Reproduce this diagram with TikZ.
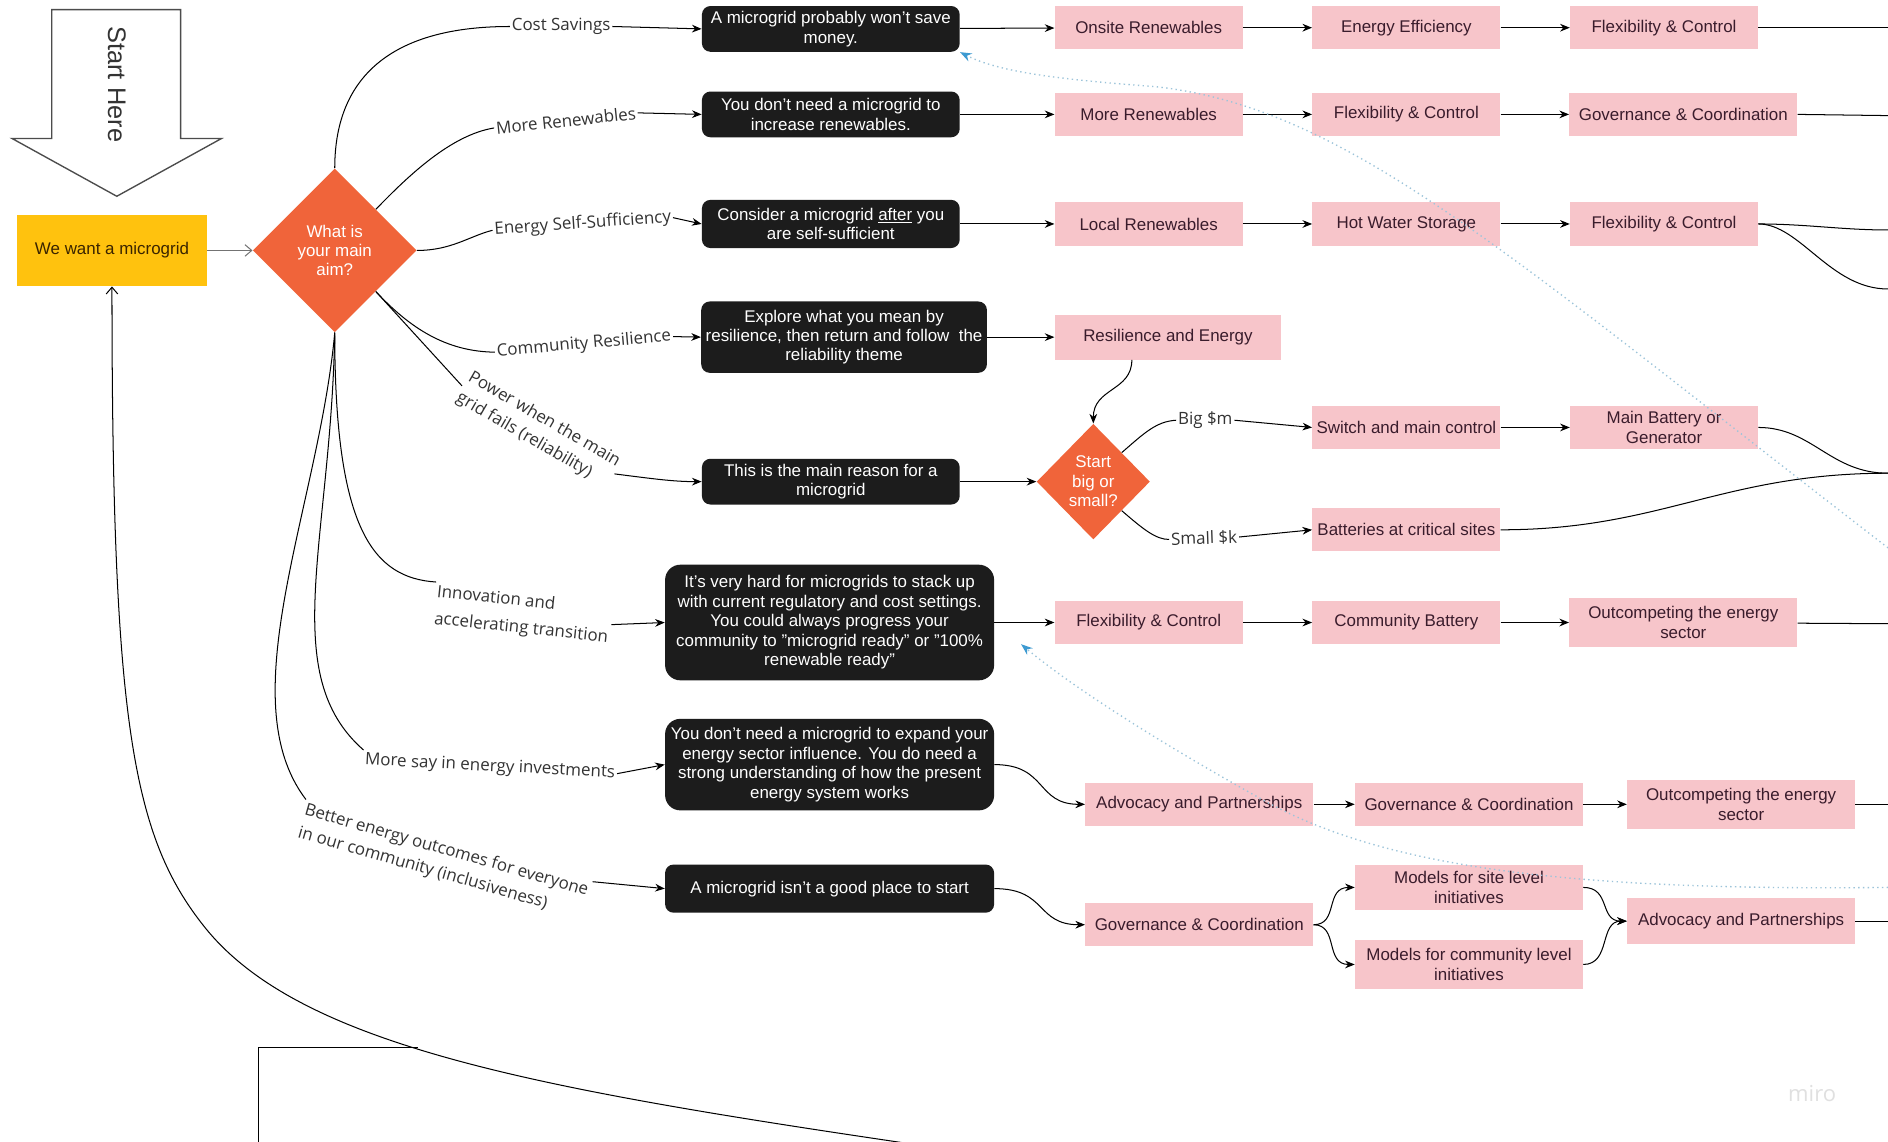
\documentclass[tikz,border=0pt]{standalone}
\usepackage{fontspec}
\setmainfont{Liberation Sans}
\newfontfamily\tagfont{Open Sans}
\usetikzlibrary{arrows.meta,positioning,calc,shapes.geometric}
\definecolor{notebg}{HTML}{1C1C1C}
\definecolor{topicbg}{HTML}{F7C5CA}
\definecolor{topictext}{HTML}{3A1C2C}
\definecolor{aimorange}{HTML}{F0643A}
\definecolor{startgold}{HTML}{FFC20E}
\definecolor{starttext}{HTML}{3A2400}
\definecolor{tagtext}{HTML}{333333}
\definecolor{hintline}{HTML}{9CC4DA}
\definecolor{hinthead}{HTML}{3D9AD1}

\begin{document}
\begin{tikzpicture}[
    x=0.025cm, y=-0.025cm,
    every node/.style={font=\fontsize{10}{11.5}\selectfont},
    note/.style={fill=notebg,text=white,rounded corners=5pt,align=center,minimum width=5.35cm,minimum height=0.95cm,inner sep=2pt},
    topic/.style={fill=topicbg,text=topictext,align=center,minimum width=3.9cm,minimum height=0.9cm,inner sep=2pt},
    wide/.style={minimum width=4.73cm},
    choice/.style={diamond,fill=aimorange,text=white,align=center,inner sep=0pt},
    tag/.style={font=\tagfont\fontsize{10}{14}\selectfont,text=tagtext,inner sep=1pt,align=left},
    wire/.style={line width=0.6pt,black},
    link/.style={wire,-{Stealth[length=2mm,width=1.6mm]}},
    soft/.style={line width=0.6pt,-{Straight Barb[length=1.4mm,width=2.4mm]}},
    hint/.style={line width=0.8pt,hintline,dotted,-{Stealth[length=2.4mm,width=1.8mm,color=hinthead]}}
]
\path[use as bounding box,fill=white] (0,0) rectangle (1568,948);

% Entry
\draw[line width=0.8pt,black!70] (43,8) -- (150,8) -- (150,115) -- (184,115) -- (97,163) -- (10,115) -- (43,115) -- cycle;
\node[rotate=-90,font=\fontsize{15}{15}\selectfont,text=black!80] (here) at (97,70) {Start Here};
\node[fill=startgold,text=starttext,minimum width=3.95cm,minimum height=1.48cm] (want) at (93,208) {We want a microgrid};
\node[choice,minimum width=3.4cm,minimum height=3.4cm] (aim) at (278,208) {What is\\your main\\aim?};
\draw[soft,black!55] (want) -- (aim);

% Aims
\node[tag] (cost) at (466,22) {Cost Savings};
\node[tag,rotate=6] (morer) at (470,100) {More Renewables};
\node[tag,rotate=4] (selfs) at (484,186) {Energy Self-Sufficiency};
\node[tag,rotate=5] (resil) at (485,286) {Community Resilience};
\node[tag,rotate=-30] (power) at (447,357) {Power when the main\\grid fails (reliability)};
\node[tag,rotate=-6] (innov) at (434,511) {Innovation and\\[2pt]accelerating transition};
\node[tag,rotate=-3] (moresay) at (407,637) {More say in energy investments};
\node[tag,rotate=-16] (better) at (368,716) {Better energy outcomes for everyone\\in our community (inclusiveness)};

% Answers
\node[note] (nomoney) at (690,24) {A microgrid probably won't save\\money.};
\node[note] (norenew) at (690,95) {You don't need a microgrid to\\increase renewables.};
\node[note,minimum height=1cm] (after) at (690,186) {Consider a microgrid \underline{after} you\\are self-sufficient};
\node[note,minimum width=5.93cm,minimum height=1.48cm] (explore) at (701,280) {Explore what you mean by\\resilience, then return and follow\ \ the\\reliability theme};
\node[note] (mainr) at (690,400) {This is the main reason for a\\microgrid};
\node[note,minimum width=6.83cm,minimum height=2.4cm,rounded corners=9pt] (hard) at (689,517) {It's very hard for microgrids to stack up\\with current regulatory and cost settings.\\You could always progress your\\community to "microgrid ready" or "100\%\\renewable ready"};
\node[note,minimum width=6.83cm,minimum height=1.9cm,rounded corners=9pt] (influence) at (689,635) {You don't need a microgrid to expand your\\energy sector influence. You do need a\\strong understanding of how the present\\energy system works};
\node[note,minimum width=6.83cm,minimum height=1cm] (notstart) at (689,738) {A microgrid isn't a good place to start};

% Themes
\node[topic] (t11) at (954,23) {Onsite Renewables};
\node[topic] (t12) at (1168,23) {Energy Efficiency};
\node[topic] (t13) at (1382,23) {Flexibility \& Control};
\node[topic] (t21) at (954,95) {More Renewables};
\node[topic] (t22) at (1168,95) {Flexibility \& Control};
\node[topic,wide] (t23) at (1398,95) {Governance \& Coordination};
\node[topic] (t31) at (954,186) {Local Renewables};
\node[topic] (t32) at (1168,186) {Hot Water Storage};
\node[topic] (t33) at (1382,186) {Flexibility \& Control};
\node[topic,minimum width=4.7cm,minimum height=0.93cm] (t41) at (970,280) {Resilience and Energy};
\node[choice,minimum width=2.35cm,minimum height=2.4cm] (size) at (908,400) {Start\\big or\\small?};
\node[tag] (big) at (1001,349) {Big \$m};
\node[tag,rotate=2] (small) at (1000,447) {Small \$k};
\node[topic] (t51) at (1168,355) {Switch and main control};
\node[topic] (t52) at (1382,355) {Main Battery or\\Generator};
\node[topic] (t61) at (1168,440) {Batteries at critical sites};
\node[topic] (t71) at (954,517) {Flexibility \& Control};
\node[topic] (t72) at (1168,517) {Community Battery};
\node[topic,wide,minimum height=1cm] (t73) at (1398,517) {Outcompeting the energy\\sector};
\node[topic,wide] (t81) at (996,668) {Advocacy and Partnerships};
\node[topic,wide] (t82) at (1220,668) {Governance \& Coordination};
\node[topic,wide,minimum height=1.03cm] (t83) at (1446,668) {Outcompeting the energy\\sector};
\node[topic,wide] (t91) at (996,768) {Governance \& Coordination};
\node[topic,wide,minimum height=0.95cm] (t92) at (1220,737) {Models for site level\\initiatives};
\node[topic,wide,minimum height=1cm] (t93) at (1220,801) {Models for community level\\initiatives};
\node[topic,wide,minimum height=0.97cm] (t94) at (1446,765) {Advocacy and Partnerships};
\node[font=\tagfont\fontsize{13}{13}\selectfont,text=black!12] (miro) at (1505,908) {miro};

% Edge ends
\coordinate (r1) at (1568,23);
\coordinate (r2) at (1568,96);
\coordinate (r3) at (1568,191);
\coordinate (r4) at (1568,240);
\coordinate (r5) at (1568,393);
\coordinate (r7) at (1568,518);
\coordinate (r8) at (1568,668);
\coordinate (r9) at (1568,765);
\coordinate (loop) at (770,952);
\coordinate (hintA) at (1568,455);
\coordinate (hintB) at (1568,737);
\coordinate (hintBend) at (848,535);

% From the main question
\draw[wire] (aim.north) .. controls (278,60) and (330,22) .. (cost.west);
\draw[wire] (aim.north east) .. controls (340,145) and (375,112) .. (morer.west);
\draw[wire] (aim.east) .. controls (375,208) and (390,196) .. (selfs.west);
\draw[wire] (aim.south east) .. controls (340,272) and (370,292) .. (resil.west);
\draw[wire] (aim.south east) -- (power.west);
\draw[wire] (aim.south) .. controls (278,440) and (310,480) .. (innov.north west);
\draw[wire] (aim.south) .. controls (275,450) and (230,560) .. (moresay.north west);
\draw[wire] (aim.south) .. controls (265,420) and (190,580) .. (better.north west);

\draw[link] (cost.east) -- (nomoney.west);
\draw[link] (morer.east) -- (norenew.west);
\draw[link] (selfs.east) -- (after.west);
\draw[link] (resil.east) -- (explore.west);
\draw[link] (power.east) .. controls (545,398) and (560,400) .. (mainr.west);
\draw[link] (innov.east) -- (hard.west);
\draw[link] (moresay.east) -- (influence.west);
\draw[link] (better.north east) -- (notstart.west);

% Rows
\draw[link] (nomoney) -- (t11);
\draw[link] (t11) -- (t12);
\draw[link] (t12) -- (t13);
\draw[wire] (t13) -- (r1);
\draw[link] (norenew) -- (t21);
\draw[link] (t21) -- (t22);
\draw[link] (t22) -- (t23);
\draw[wire] (t23.east) -- (r2);
\draw[link] (after) -- (t31);
\draw[link] (t31) -- (t32);
\draw[link] (t32) -- (t33);
\draw[wire] (t33.east) .. controls (1500,186) and (1530,191) .. (r3);
\draw[wire] (t33.east) .. controls (1495,186) and (1520,240) .. (r4);
\draw[link] (explore.east) -- (t41.west);
\draw[link] ($(t41.south)+(-30,0)$) .. controls (940,325) and (908,322) .. (size.north);
\draw[link] (mainr) -- (size);
\draw[wire] (size.north east) .. controls (950,360) and (960,350) .. (big.west);
\draw[link] (big.east) -- (t51.west);
\draw[wire] (size.south east) .. controls (950,440) and (960,448) .. (small.west);
\draw[link] (small.east) -- (t61.west);
\draw[link] (t51) -- (t52);
\draw[wire] (t52.east) .. controls (1505,355) and (1520,393) .. (r5);
\draw[wire] (t61.east) .. controls (1380,440) and (1430,393) .. (r5);
\draw[link] (hard) -- (t71);
\draw[link] (t71) -- (t72);
\draw[link] (t72) -- (t73);
\draw[wire] (t73) -- (r7);
\draw[link] (influence.east) .. controls (870,635) and (860,668) .. (t81.west);
\draw[link] (t81) -- (t82);
\draw[link] (t82) -- (t83);
\draw[wire] (t83) -- (r8);
\draw[link] (notstart.east) .. controls (870,738) and (860,768) .. (t91.west);
\draw[link] (t91.east) .. controls (1112,768) and (1100,737) .. (t92.west);
\draw[link] (t91.east) .. controls (1112,768) and (1100,801) .. (t93.west);
\draw[link] (t92.east) .. controls (1338,737) and (1328,765) .. (t94.west);
\draw[link] (t93.east) .. controls (1338,801) and (1328,765) .. (t94.west);
\draw[wire] (t94) -- (r9);

% Back to the start
\draw[wire] (215,950) -- (215,870) -- (347,870);
\draw[soft] (loop) .. controls (450,905) and (250,870) .. (170,770) .. controls (110,695) and (93,600) .. (want.south);

% Hints
\draw[hint] (hintA) .. controls (1250,210) and (1120,90) .. (960,72) .. controls (880,66) and (830,60) .. (nomoney.south east);
\draw[hint] (hintB) .. controls (1300,740) and (1150,720) .. (1050,665) .. controls (960,615) and (890,570) .. (hintBend);
\end{tikzpicture}
\end{document}
